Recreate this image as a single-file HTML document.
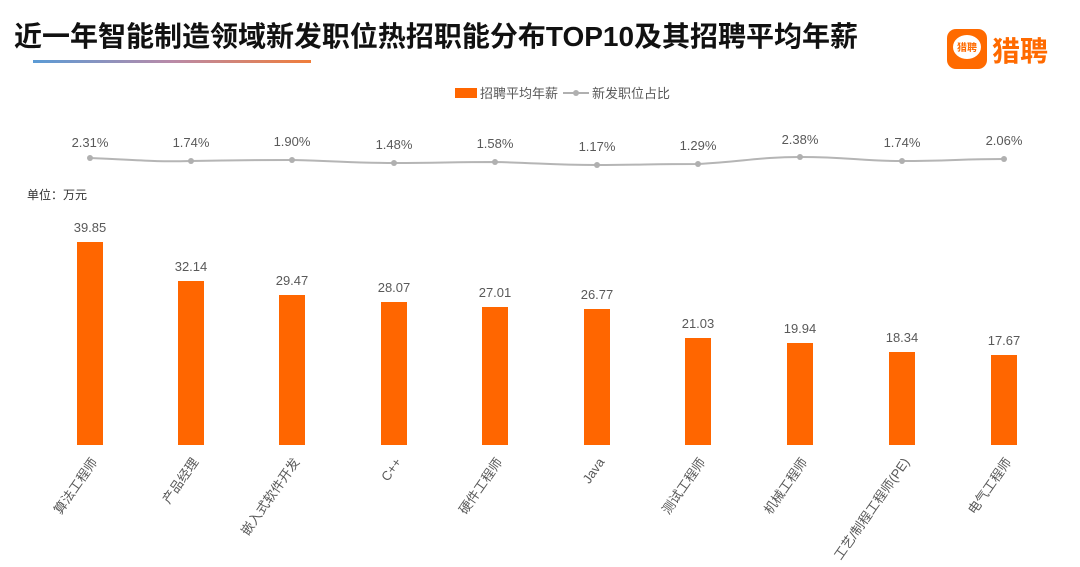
<!DOCTYPE html>
<html><head><meta charset="utf-8"><style>
body{margin:0;background:#fff;}
svg text{font-family:"Liberation Sans","Noto Sans CJK SC",sans-serif;}
</style></head><body>
<svg width="1080" height="562" viewBox="0 0 1080 562" xmlns="http://www.w3.org/2000/svg">
<defs><linearGradient id="g" x1="0" x2="1"><stop offset="0" stop-color="#5b9bd5"/><stop offset="0.5" stop-color="#b98aa8"/><stop offset="1" stop-color="#f07d3a"/></linearGradient></defs>
<text x="14" y="46" font-size="28" font-weight="bold" fill="#111" textLength="844" lengthAdjust="spacingAndGlyphs">近一年智能制造领域新发职位热招职能分布TOP10及其招聘平均年薪</text>
<rect x="33" y="60" width="278" height="3" fill="url(#g)"/>
<rect x="947" y="29" width="40" height="40" rx="9" fill="#ff6a00"/>
<ellipse cx="967" cy="47" rx="14" ry="12" fill="#fff"/>
<text x="967" y="51" font-size="10" text-anchor="middle" fill="#ff6a00" font-weight="bold">猎聘</text>
<text x="992" y="61" font-size="28" font-weight="bold" fill="#ff6a00">猎聘</text>
<rect x="455" y="88" width="22" height="10" fill="#ff6600"/>
<text x="480" y="98" font-size="13" fill="#595959">招聘平均年薪</text>
<line x1="563" y1="93" x2="589" y2="93" stroke="#b0b0b0" stroke-width="2"/>
<circle cx="576" cy="93" r="3" fill="#b0b0b0"/>
<text x="592" y="98" font-size="13" fill="#595959">新发职位占比</text>
<text x="27" y="199" font-size="12" fill="#333">单位：万元</text>
<path d="M90,158 C140,160 150,162 191,161 C240,160 250,160 292,160 C340,161 350,163 394,163 C440,163 450,162 495,162 C540,163 550,165 597,165 C640,165 650,164 698,164 C740,162 760,157 800,157 C850,157 860,161 902,161 C950,161 960,159 1004,159" fill="none" stroke="#b5b5b5" stroke-width="2"/>
<g fill="#b0b0b0">
<circle cx="90" cy="158" r="3"/><circle cx="191" cy="161" r="3"/><circle cx="292" cy="160" r="3"/><circle cx="394" cy="163" r="3"/><circle cx="495" cy="162" r="3"/><circle cx="597" cy="165" r="3"/><circle cx="698" cy="164" r="3"/><circle cx="800" cy="157" r="3"/><circle cx="902" cy="161" r="3"/><circle cx="1004" cy="159" r="3"/>
</g>
<g font-size="13" fill="#595959" text-anchor="middle">
<text x="90" y="147">2.31%</text><text x="191" y="147">1.74%</text><text x="292" y="146">1.90%</text><text x="394" y="149">1.48%</text><text x="495" y="148">1.58%</text><text x="597" y="151">1.17%</text><text x="698" y="150">1.29%</text><text x="800" y="144">2.38%</text><text x="902" y="147">1.74%</text><text x="1004" y="145">2.06%</text>
</g>
<g fill="#ff6600">
<rect x="77" y="242" width="26" height="203"/>
<rect x="178" y="281" width="26" height="164"/>
<rect x="279" y="295" width="26" height="150"/>
<rect x="381" y="302" width="26" height="143"/>
<rect x="482" y="307" width="26" height="138"/>
<rect x="584" y="309" width="26" height="136"/>
<rect x="685" y="338" width="26" height="107"/>
<rect x="787" y="343" width="26" height="102"/>
<rect x="889" y="352" width="26" height="93"/>
<rect x="991" y="355" width="26" height="90"/>
</g>
<g font-size="13" fill="#595959" text-anchor="middle">
<text x="90" y="232">39.85</text><text x="191" y="271">32.14</text><text x="292" y="285">29.47</text><text x="394" y="292">28.07</text><text x="495" y="297">27.01</text><text x="597" y="299">26.77</text><text x="698" y="328">21.03</text><text x="800" y="333">19.94</text><text x="902" y="342">18.34</text><text x="1004" y="345">17.67</text>
</g>
<g font-size="13" fill="#595959" text-anchor="end">
<text transform="translate(98,462) rotate(-55)">算法工程师</text>
<text transform="translate(199,462) rotate(-55)">产品经理</text>
<text transform="translate(300,462) rotate(-55)">嵌入式软件开发</text>
<text transform="translate(402,462) rotate(-55)">C++</text>
<text transform="translate(503,462) rotate(-55)">硬件工程师</text>
<text transform="translate(605,462) rotate(-55)">Java</text>
<text transform="translate(706,462) rotate(-55)">测试工程师</text>
<text transform="translate(808,462) rotate(-55)">机械工程师</text>
<text transform="translate(910,462) rotate(-55)">工艺/制程工程师(PE)</text>
<text transform="translate(1012,462) rotate(-55)">电气工程师</text>
</g>
</svg>
</body></html>
